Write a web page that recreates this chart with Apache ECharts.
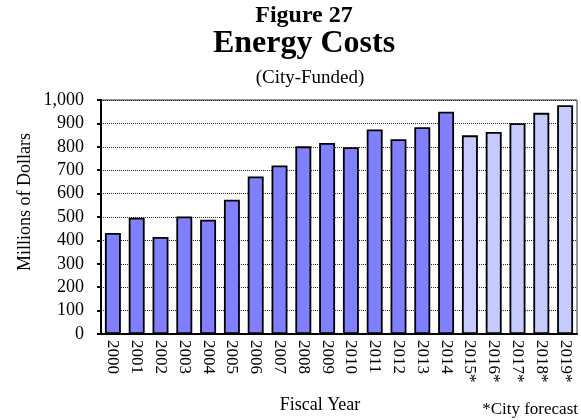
<!DOCTYPE html>
<html>
<head>
<meta charset="utf-8">
<title>Energy Costs</title>
<script src="https://cdn.jsdelivr.net/npm/echarts@6/dist/echarts.min.js"></script>
<style>
  html, body { margin: 0; padding: 0; background: #fff; }
  #chart { width: 581px; height: 420px; }
</style>
</head>
<body>
<div id="chart"></div>
<script>
// fiscal years, * = city forecast
const years = [
  "2000", "2001", "2002", "2003", "2004", "2005", "2006", "2007", "2008", "2009",
  "2010", "2011", "2012", "2013", "2014", "2015*", "2016*", "2017*", "2018*", "2019*",
];
// millions of dollars
const costs = [
  432, 497, 415, 502, 488, 574, 673, 720, 802, 816,
  798, 874, 832, 884, 950, 849, 863, 901, 945, 978,
];
const firstForecast = 15;
const yTicks = { min: 0, max: 1000, interval: 100 };

const serif = '"Liberation Serif", "Times New Roman", serif';
const actualColor = "#8080ff";
const forecastColor = "#c6cbff";

const chart = echarts.init(document.getElementById("chart"));

chart.setOption({
  animation: false,
  textStyle: { fontFamily: serif, color: "#000" },
  grid: {
    left: 101,
    right: 4,
    top: 100,
    bottom: 86,
    show: true,
    borderColor: "#333",
    borderWidth: 1,
  },
  xAxis: {
    type: "category",
    data: years,
    axisLine: { lineStyle: { color: "#000", width: 2 } },
    axisTick: { show: false },
    axisLabel: {
      rotate: -90,
      margin: 6,
      fontFamily: serif,
      fontSize: 17,
      color: "#000",
    },
  },
  yAxis: {
    type: "value",
    min: yTicks.min,
    max: yTicks.max,
    interval: yTicks.interval,
    axisLine: { show: true, lineStyle: { color: "#000", width: 2 } },
    axisTick: { show: true, length: 4, lineStyle: { color: "#000", width: 2 } },
    axisLabel: { margin: 17, fontFamily: serif, fontSize: 18, color: "#000" },
    splitLine: { lineStyle: { color: "#222", type: "dotted", width: 1 } },
  },
  series: [
    {
      type: "bar",
      data: costs,
      barCategoryGap: "33%",
      itemStyle: {
        borderColor: "#000",
        borderWidth: 1.8,
        color: (p) => (p.dataIndex >= firstForecast ? forecastColor : actualColor),
      },
    },
  ],
  graphic: [
    {
      type: "text", x: 304, y: 4,
      style: { text: "Figure 27", font: "bold 24px " + serif, fill: "#000", align: "center", verticalAlign: "top" },
    },
    {
      type: "text", x: 304, y: 28,
      style: { text: "Energy Costs", font: "bold 32px " + serif, fill: "#000", align: "center", verticalAlign: "top" },
    },
    {
      type: "text", x: 310, y: 69,
      style: { text: "(City-Funded)", font: "19px " + serif, fill: "#000", align: "center", verticalAlign: "top" },
    },
    {
      type: "text", x: 25, y: 202, rotation: Math.PI / 2,
      style: { text: "Millions of Dollars", font: "18px " + serif, fill: "#000", align: "center", verticalAlign: "middle" },
    },
    {
      type: "text", x: 320, y: 405,
      style: { text: "Fiscal Year", font: "18px " + serif, fill: "#000", align: "center", verticalAlign: "middle" },
    },
    {
      type: "text", x: 578, y: 410,
      style: { text: "*City forecast", font: "17px " + serif, fill: "#000", align: "right", verticalAlign: "middle" },
    },
  ],
});
</script>
</body>
</html>
